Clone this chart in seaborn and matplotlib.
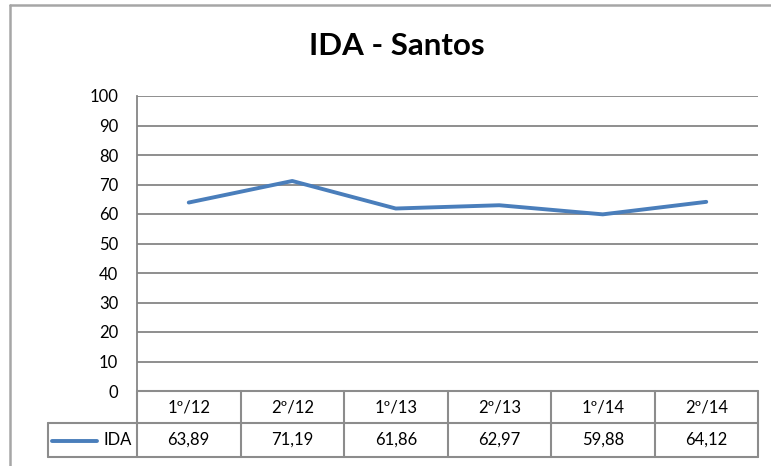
"""
IDA - Santos: line chart with an Excel-style data table underneath.
"""

import matplotlib
matplotlib.use("Agg")
import matplotlib.pyplot as plt
import seaborn as sns
import pandas as pd
from matplotlib.lines import Line2D

# --- Data ---
periods = ["1º/12", "2º/12", "1º/13", "2º/13", "1º/14", "2º/14"]
ida_values = [63.89, 71.19, 61.86, 62.97, 59.88, 64.12]
series_name = "IDA"
title = "IDA - Santos"

# --- Style ---
BLUE = "#4A7EBB"
GRID = "#868686"
TABLE = "#8C8C8C"
W, H = 771, 466
FS = 12

sns.set_theme(style="white")
plt.rcParams["font.family"] = ["Lato", "DejaVu Sans"]


def px_box(x0, y0, x1, y1):
    # pixel box (top-left origin) -> figure fraction rect
    return [x0 / W, 1 - y1 / H, (x1 - x0) / W, (y1 - y0) / H]


def fmt(v):
    return f"{v:.2f}".replace(".", ",")


def main():
    fig = plt.figure(figsize=(W / 100, H / 100), dpi=100)

    # chart border (only top and left are inside the picture)
    border = dict(transform=fig.transFigure, color="#A6A6A6", lw=1.8)
    fig.lines.append(Line2D([10 / W, 1.0], [1 - 5 / H, 1 - 5 / H], **border))
    fig.lines.append(Line2D([10 / W, 10 / W], [0.0, 1 - 5 / H], **border))

    fig.text(397 / W, 1 - 46 / H, title, ha="center", va="center",
             fontsize=22.5, fontweight="bold", color="#000000")

    # --- line plot ---
    ax = fig.add_axes(px_box(137, 96, 758, 391))
    df = pd.DataFrame({"periodo": periods, series_name: ida_values})
    sns.lineplot(data=df, x="periodo", y=series_name, ax=ax, color=BLUE,
                 lw=2.8, sort=False)
    ax.set_xlim(-0.5, len(periods) - 0.5)
    ax.set_ylim(0, 100)
    ax.set_yticks(range(0, 101, 10))
    ax.set_xticks([])
    ax.set_xlabel("")
    ax.set_ylabel("")
    ax.grid(axis="y", color=GRID, lw=1.3)
    ax.set_axisbelow(True)
    for side in ["top", "right", "bottom"]:
        ax.spines[side].set_visible(False)
    ax.spines["left"].set_color(GRID)
    ax.spines["left"].set_linewidth(1.3)
    ax.tick_params(axis="y", length=0, pad=13.5, labelsize=FS, labelcolor="#000000")

    # --- data table ---
    tab = fig.add_axes(px_box(137, 391, 758, 457))
    tab.set_xlim(-0.5, len(periods) - 0.5)
    tab.set_ylim(457, 391)
    tab.axis("off")
    col_w = 621 / len(periods)
    label_left = -0.5 - (137 - 48) / col_w
    n = len(periods)
    kw = dict(color=TABLE, lw=1.5, clip_on=False)
    tab.plot([-0.5, n - 0.5], [391, 391], **kw)
    tab.plot([label_left, n - 0.5], [423, 423], **kw)
    tab.plot([label_left, n - 0.5], [457, 457], **kw)
    tab.plot([label_left, label_left], [423, 457], **kw)
    for i in range(n + 1):
        tab.plot([i - 0.5, i - 0.5], [391, 457], **kw)

    for i, (p, v) in enumerate(zip(periods, ida_values)):
        tab.text(i, 408, p, ha="center", va="center", fontsize=FS, color="#000000")
        tab.text(i, 440, fmt(v), ha="center", va="center", fontsize=FS, color="#000000")

    def to_x(px):
        return -0.5 + (px - 137) / col_w

    tab.plot([to_x(52), to_x(97)], [441, 441], color=BLUE, lw=2.8, clip_on=False)
    tab.text(to_x(132), 440, series_name, ha="right", va="center",
             fontsize=FS, color="#000000")

    fig.savefig("out.png", dpi=100)


if __name__ == "__main__":
    main()
